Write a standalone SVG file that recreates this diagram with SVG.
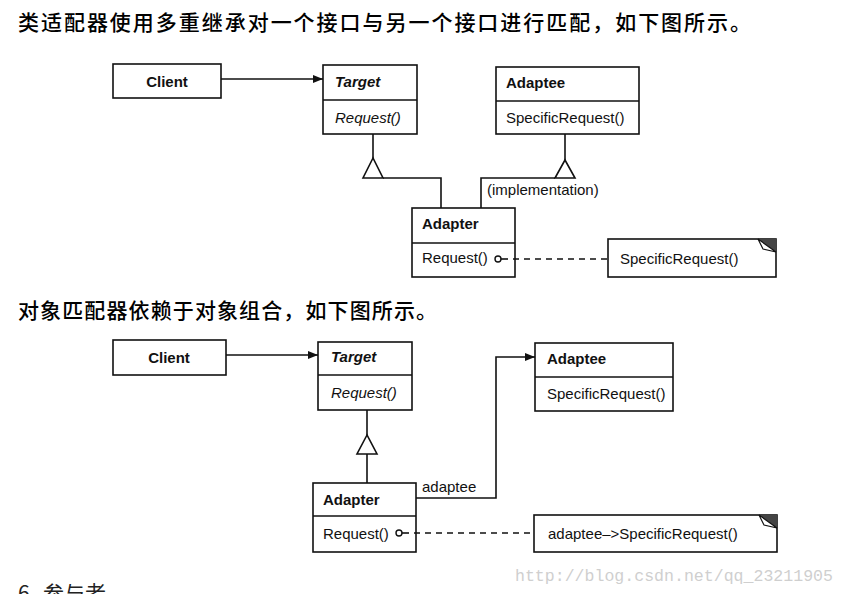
<svg xmlns="http://www.w3.org/2000/svg" width="846" height="594" viewBox="0 0 846 594">
<defs>
<style>
.box{fill:#fff;stroke:#111;stroke-width:1.6}
.ln{fill:none;stroke:#111;stroke-width:1.6}
.dash{fill:none;stroke:#111;stroke-width:1.4;stroke-dasharray:6 5}
.tri{fill:#fff;stroke:#111;stroke-width:1.6}
.t{font-family:"Liberation Sans",Arial,sans-serif;font-size:15px;fill:#111}
.b{font-weight:bold}
.i{font-style:italic}
.h{font-family:"Noto Sans CJK SC","Noto Sans",sans-serif;font-size:21px;font-weight:500;fill:#000}
.h2{font-family:"Noto Sans CJK SC","Noto Sans",sans-serif;font-size:21px;font-weight:400;fill:#222}
.wm{font-family:"Liberation Mono",monospace;font-size:16.5px;fill:#cfcfcf}
</style>
<marker id="arr" viewBox="0 0 10 8" refX="10" refY="4" markerWidth="11" markerHeight="8" markerUnits="userSpaceOnUse" orient="auto">
<path d="M0,0 L10,4 L0,8 Z" fill="#111"/>
</marker>
</defs>
<rect width="846" height="594" fill="#fff"/>

<text class="h" x="18" y="30" textLength="733" lengthAdjust="spacing">类适配器使用多重继承对一个接口与另一个接口进行匹配，如下图所示。</text>
<text class="h" x="18" y="318" textLength="419" lengthAdjust="spacing">对象匹配器依赖于对象组合，如下图所示。</text>
<text class="h2" y="601"><tspan x="18">6</tspan><tspan x="43">参与者</tspan></text>
<text class="wm" x="515" y="581" textLength="318" lengthAdjust="spacingAndGlyphs">http://blog.csdn.net/qq_23211905</text>

<g id="client1">
<rect class="box" x="113" y="64" width="108" height="34"/>
<text class="t b" x="167" y="87" text-anchor="middle">Client</text>
</g>
<g id="target1">
<rect class="box" x="323" y="65" width="94" height="69"/>
<line class="ln" x1="323" y1="100" x2="417" y2="100"/>
<text class="t b i" x="335" y="87">Target</text>
<text class="t i" x="335" y="123">Request()</text>
</g>
<g id="adaptee1">
<rect class="box" x="496" y="67" width="143" height="67"/>
<line class="ln" x1="496" y1="101" x2="639" y2="101"/>
<text class="t b" x="506" y="88">Adaptee</text>
<text class="t" x="506" y="123">SpecificRequest()</text>
</g>
<g id="adapter1">
<rect class="box" x="412" y="208" width="103" height="69"/>
<line class="ln" x1="412" y1="243" x2="515" y2="243"/>
<text class="t b" x="422" y="229">Adapter</text>
<text class="t" x="422" y="263">Request()</text>
</g>
<g id="note1">
<rect class="box" x="608" y="239" width="168" height="38"/>
<polygon points="758,239 776,239 776,252" fill="#444"/>
<polygon points="758,239 763,249 776,252" fill="#fff" stroke="#111" stroke-width="1.2"/>
<text class="t" x="620" y="264">SpecificRequest()</text>
</g>

<g id="client2">
<rect class="box" x="113" y="340" width="113" height="35"/>
<text class="t b" x="169" y="363" text-anchor="middle">Client</text>
</g>
<g id="target2">
<rect class="box" x="318" y="342" width="94" height="68"/>
<line class="ln" x1="318" y1="375" x2="412" y2="375"/>
<text class="t b i" x="331" y="362">Target</text>
<text class="t i" x="331" y="398">Request()</text>
</g>
<g id="adaptee2">
<rect class="box" x="535" y="343" width="138" height="68"/>
<line class="ln" x1="535" y1="377" x2="673" y2="377"/>
<text class="t b" x="547" y="364">Adaptee</text>
<text class="t" x="547" y="399">SpecificRequest()</text>
</g>
<g id="adapter2">
<rect class="box" x="313" y="483" width="103" height="69"/>
<line class="ln" x1="313" y1="516" x2="416" y2="516"/>
<text class="t b" x="323" y="505">Adapter</text>
<text class="t" x="323" y="539">Request()</text>
</g>
<g id="note2">
<rect class="box" x="534" y="515" width="243" height="37"/>
<polygon points="759,515 777,515 777,528" fill="#444"/>
<polygon points="759,515 764,525 777,528" fill="#fff" stroke="#111" stroke-width="1.2"/>
<text class="t" x="548" y="539">adaptee–&gt;SpecificRequest()</text>
</g>

<g id="connectors">
<line class="ln" x1="221" y1="79" x2="323" y2="79" marker-end="url(#arr)"/>
<line class="ln" x1="373" y1="134" x2="373" y2="158"/>
<polygon class="tri" points="373,158 363,178 383,178"/>
<polyline class="ln" points="383,178 441,178 441,208"/>
<line class="ln" x1="565" y1="134" x2="565" y2="160"/>
<polygon class="tri" points="565,160 555,178 575,178"/>
<polyline class="ln" points="555,178 481,178 481,208"/>
<circle cx="498" cy="259" r="3" fill="#fff" stroke="#111" stroke-width="1.4"/>
<line class="ln" x1="501" y1="259" x2="508" y2="259" stroke-width="1.4"/>
<line class="dash" x1="513" y1="259" x2="608" y2="259"/>
<text class="t" x="487" y="195">(implementation)</text>
<line class="ln" x1="226" y1="355" x2="318" y2="355" marker-end="url(#arr)"/>
<line class="ln" x1="367" y1="410" x2="367" y2="435"/>
<polygon class="tri" points="367,435 357,454 377,454"/>
<line class="ln" x1="367" y1="454" x2="367" y2="483"/>
<polyline class="ln" points="416,498 496,498 496,357 535,357" marker-end="url(#arr)"/>
<text class="t" x="422" y="492">adaptee</text>
<circle cx="399" cy="533" r="3" fill="#fff" stroke="#111" stroke-width="1.4"/>
<line class="ln" x1="402" y1="533" x2="409" y2="533" stroke-width="1.4"/>
<line class="dash" x1="414" y1="533" x2="534" y2="533"/>
</g>
</svg>
